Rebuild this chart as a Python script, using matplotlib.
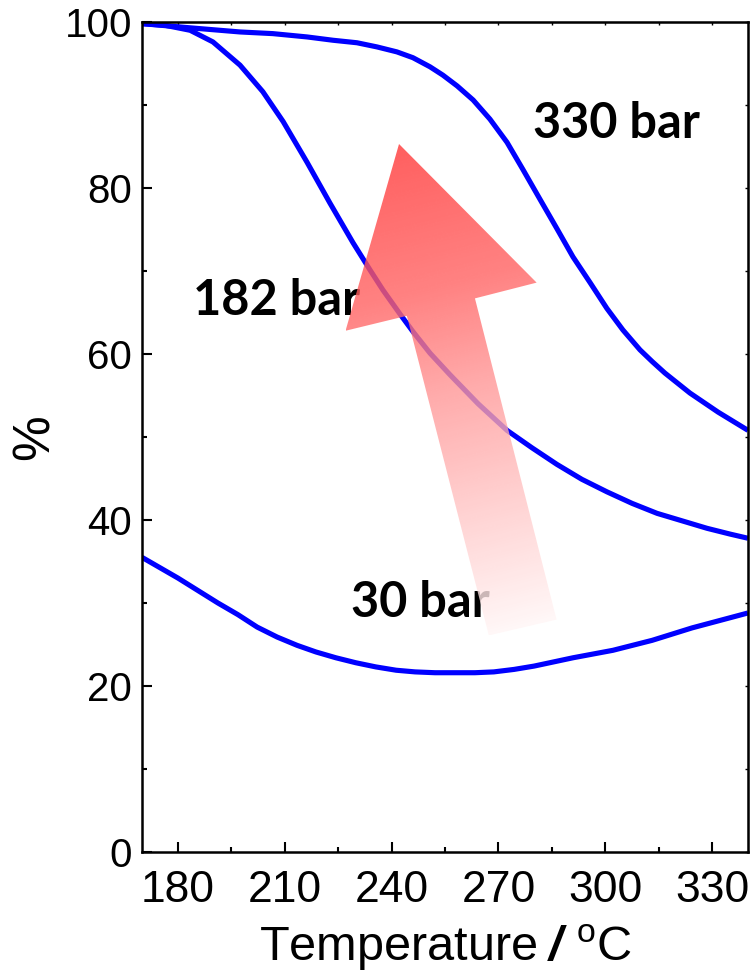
import numpy as np
import matplotlib
matplotlib.use('Agg')
import matplotlib.pyplot as plt
from matplotlib.patches import Polygon
from matplotlib.ticker import MultipleLocator

# curves (temperature in degC, value in %)
temp_330 = [170.0, 183.5, 197.5, 206.7, 216.3, 223.6, 230.3, 235.9, 241.5, 246.0,
            250.8, 254.4, 258.4, 262.9, 267.6, 272.4, 276.9, 281.7, 286.4, 290.9,
            295.7, 300.4, 304.9, 309.7, 313.1, 316.7, 323.7, 331.6, 340.0]
pct_330 = [99.8, 99.3, 98.8, 98.6, 98.2, 97.8, 97.5, 97.0, 96.4, 95.7,
           94.6, 93.6, 92.3, 90.6, 88.3, 85.5, 82.2, 78.6, 75.1, 71.7,
           68.6, 65.5, 62.9, 60.5, 59.1, 57.7, 55.3, 53.0, 50.8]

temp_182 = [170.0, 176.5, 183.5, 189.9, 197.5, 203.9, 209.6, 216.3, 222.7, 229.2,
            234.0, 237.6, 242.4, 246.0, 250.8, 256.4, 264.3, 272.4, 279.4, 286.4,
            293.4, 300.4, 307.5, 314.5, 321.5, 328.5, 335.0, 340.0]
pct_182 = [99.8, 99.6, 99.0, 97.6, 94.8, 91.6, 88.0, 83.1, 78.2, 73.4,
           70.1, 67.7, 64.8, 62.7, 60.1, 57.5, 54.0, 50.8, 48.7, 46.7,
           44.9, 43.4, 42.0, 40.8, 39.9, 39.0, 38.3, 37.8]

temp_30 = [170.0, 180.1, 191.3, 196.9, 202.3, 207.9, 213.5, 218.8, 224.4, 230.0,
           235.6, 241.3, 246.6, 252.2, 257.8, 263.4, 268.7, 274.4, 280.0, 290.9,
           302.1, 313.1, 324.3, 340.0]
pct_30 = [35.5, 33.0, 30.0, 28.6, 27.1, 25.9, 24.9, 24.1, 23.4, 22.8,
          22.3, 21.9, 21.7, 21.6, 21.6, 21.6, 21.7, 22.0, 22.4, 23.4,
          24.3, 25.5, 27.0, 28.8]

series = [(temp_330, pct_330), (temp_182, pct_182), (temp_30, pct_30)]

labels = ['330 bar', '182 bar', '30 bar']
label_pos = [(279.7, 86.0), (184.3, 64.7), (228.6, 28.3)]

x_ticks = [180, 210, 240, 270, 300, 330]
y_ticks = [0, 20, 40, 60, 80, 100]

# big "increasing pressure" arrow (tip, right barb, right neck, tail right, tail left, left neck, left barb)
arrow_xy = np.array([[242.1, 85.3], [280.7, 68.6], [263.4, 66.7], [286.3, 28.0],
                     [267.3, 26.1], [244.3, 64.6], [227.1, 62.8]])

plt.rcParams['font.family'] = 'Liberation Sans'
plt.rcParams['mathtext.fontset'] = 'custom'
plt.rcParams['mathtext.rm'] = 'Liberation Sans'
plt.rcParams['mathtext.bf'] = 'Liberation Sans:bold:italic'
plt.rcParams['mathtext.it'] = 'Liberation Sans:italic'

fig = plt.figure(figsize=(7.55, 9.77), dpi=100)
ax = fig.add_axes([142 / 755, 125 / 977, 606 / 755, 830 / 977])

for t, p in series:
    ax.plot(t, p, color='#0000FF', lw=3.7, solid_joinstyle='round',
            solid_capstyle='butt', zorder=2)

for txt, (tx, ty) in zip(labels, label_pos):
    ax.text(tx, ty, txt, fontfamily='Lato', fontweight='bold', fontsize=35,
            ha='left', va='baseline', zorder=3)

ax.set_xlim(170, 340)
ax.set_ylim(0, 100)
ax.set_xticks(x_ticks)
ax.set_yticks(y_ticks)
ax.xaxis.set_minor_locator(MultipleLocator(15))
ax.yaxis.set_minor_locator(MultipleLocator(10))
ax.tick_params(axis='both', which='major', direction='in', length=7.5, width=1.5)
ax.tick_params(axis='both', which='minor', direction='in', length=3.5, width=1.5)
ax.tick_params(axis='x', labelsize=32, pad=13)
ax.tick_params(axis='y', labelsize=29, pad=7)
for s in ax.spines.values():
    s.set_linewidth(1.8)

# short ticks on top / right
top = ax.secondary_xaxis('top')
top.set_xticks(np.arange(180, 341, 15))
top.tick_params(direction='in', length=2.5, width=1, labeltop=False)
right = ax.secondary_yaxis('right')
right.set_yticks(np.arange(0, 101, 10))
right.tick_params(direction='in', length=2.5, width=1, labelright=False)

ax.set_xlabel('Temperature$\\;\\mathbf{/}$ $^{\\mathrm{o}}$C', fontsize=35, labelpad=8)
ax.set_ylabel('%', fontsize=37, labelpad=4)

# gradient fill for the arrow, running from the tail (pale) to the tip (red)
arrow = Polygon(arrow_xy, closed=True, facecolor='none', edgecolor='none', zorder=4)
ax.add_patch(arrow)
disp = ax.transData.transform(arrow_xy)
tip = disp[0]
tail = (disp[3] + disp[4]) / 2
x0, x1 = arrow_xy[:, 0].min(), arrow_xy[:, 0].max()
y0, y1 = arrow_xy[:, 1].min(), arrow_xy[:, 1].max()
gx, gy = np.meshgrid(np.linspace(x0, x1, 200), np.linspace(y0, y1, 300))
pts = ax.transData.transform(np.column_stack([gx.ravel(), gy.ravel()]))
d = tip - tail
tt = np.clip(((pts - tail) @ d) / (d @ d), 0, 1).reshape(gx.shape)
g = np.interp(tt, [0, 0.25, 0.5, 0.7, 1.0], [246, 199, 149, 99, 55]) / 255
rgba = np.zeros(gx.shape + (4,))
rgba[..., 0] = 1
rgba[..., 1] = g
rgba[..., 2] = g
rgba[..., 3] = 0.8
im = ax.imshow(rgba, extent=[x0, x1, y0, y1], origin='lower', aspect='auto',
               interpolation='bilinear', zorder=4)
im.set_clip_path(arrow)

ax.set_xlim(170, 340)
ax.set_ylim(0, 100)

plt.savefig('out.png', dpi=100)
